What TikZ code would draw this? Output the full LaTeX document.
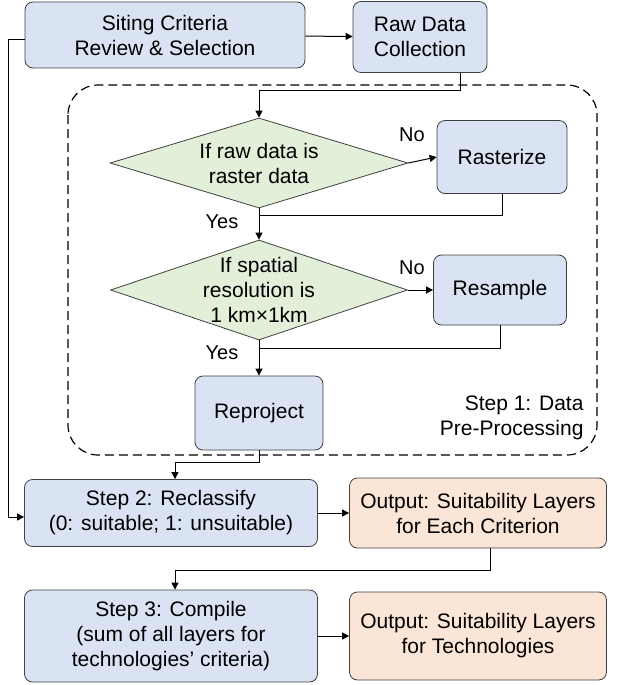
\documentclass[tikz,border=0pt]{standalone}
\usepackage{fontspec}
\setmainfont{Liberation Sans}
\usetikzlibrary{shapes.geometric,arrows.meta}
\definecolor{bfill}{HTML}{DAE3F3}
\definecolor{gfill}{HTML}{E2F0D9}
\definecolor{ofill}{HTML}{FBE5D6}
\begin{document}
\begin{tikzpicture}[x=1pt,y=-1pt,
  every node/.style={font=\fontsize{21}{25}\selectfont},
  box/.style={draw=black!75,line width=0.8pt,rounded corners=8pt,fill=bfill,align=center,inner sep=0pt},
  outb/.style={box,fill=ofill},
  dia/.style={diamond,draw=black!75,line width=0.8pt,fill=gfill,aspect=3.3,align=center,inner sep=0pt},
  lab/.style={font=\fontsize{20}{24}\selectfont},
  arr/.style={line width=1pt,-{Triangle[length=7pt,width=7pt]}},
  ln/.style={line width=1pt}]
\useasboundingbox (0,0) rectangle (632,685);
\draw[dash pattern=on 9pt off 5pt,line width=1.2pt,rounded corners=30pt] (68,85) rectangle (597,455);
\node[box,minimum width=280,minimum height=66] (s) at (165,35) {Siting Criteria\\Review \& Selection};
\node[box,minimum width=134,minimum height=71] (r) at (420,37) {Raw Data\\Collection};
\node[dia,minimum width=298,minimum height=90] (d1) at (259,163) {If raw data is\\raster data};
\node[box,minimum width=130,minimum height=73] (ra) at (502,157) {Rasterize};
\node[dia,aspect=3,inner sep=-12pt,minimum width=297,minimum height=100] (d2) at (259,290) {If spatial\\resolution is\\1 km×1km};
\node[box,minimum width=133,minimum height=70] (rs) at (500,290) {Resample};
\node[box,minimum width=128,minimum height=74] (rp) at (259,413) {Reproject};
\node[align=right,anchor=east] (st1) at (587,418) {Step 1: Data\\Pre-Processing};
\node[box,minimum width=293,minimum height=67] (s2) at (171,513) {Step 2: Reclassify\\(0: suitable; 1: unsuitable)};
\node[outb,minimum width=257,minimum height=70] (o1) at (478,513) {Output: Suitability Layers\\for Each Criterion};
\node[box,minimum width=293,minimum height=92] (s3) at (171,636) {Step 3: Compile\\(sum of all layers for\\technologies' criteria)};
\node[outb,minimum width=257,minimum height=88] (o2) at (478,636) {Output: Suitability Layers\\for Technologies};
\coordinate (c1) at (460,90);
\coordinate (c2) at (259,90);
\draw[arr] (s) -- (r);
\draw[arr] (r.south -| c1) -- (c1) -- (c2) -- (d1.north);
\draw[arr] (d1.east) -- (ra.west);
\node[lab] (n1) at (412,135) {No};
\coordinate (j1) at (259,215);
\draw[ln] (ra.south) |- (j1);
\draw[arr] (d1.south) -- (d2.north);
\node[lab] (y1) at (222,222) {Yes};
\draw[arr] (d2.east) -- (rs.west);
\node[lab] (n2) at (412,268) {No};
\coordinate (j2) at (259,348);
\draw[ln] (rs.south) |- (j2);
\draw[arr] (d2.south) -- (rp.north);
\node[lab] (y2) at (222,353) {Yes};
\coordinate (j3) at (259,462);
\coordinate (j4) at (175,462);
\draw[arr] (rp.south) -- (j3) -- (j4) -- (j4 |- s2.north);
\coordinate (l1) at (8,40);
\coordinate (l2) at (8,517);
\draw[arr] (s.west |- l1) -- (l1) -- (l2) -- (s2.west |- l2);
\draw[arr] (s2) -- (o1);
\coordinate (j5) at (490,570);
\coordinate (j6) at (175,570);
\draw[arr] (o1.south -| j5) -- (j5) -- (j6) -- (j6 |- s3.north);
\draw[arr] (s3) -- (o2);
\end{tikzpicture}
\end{document}
